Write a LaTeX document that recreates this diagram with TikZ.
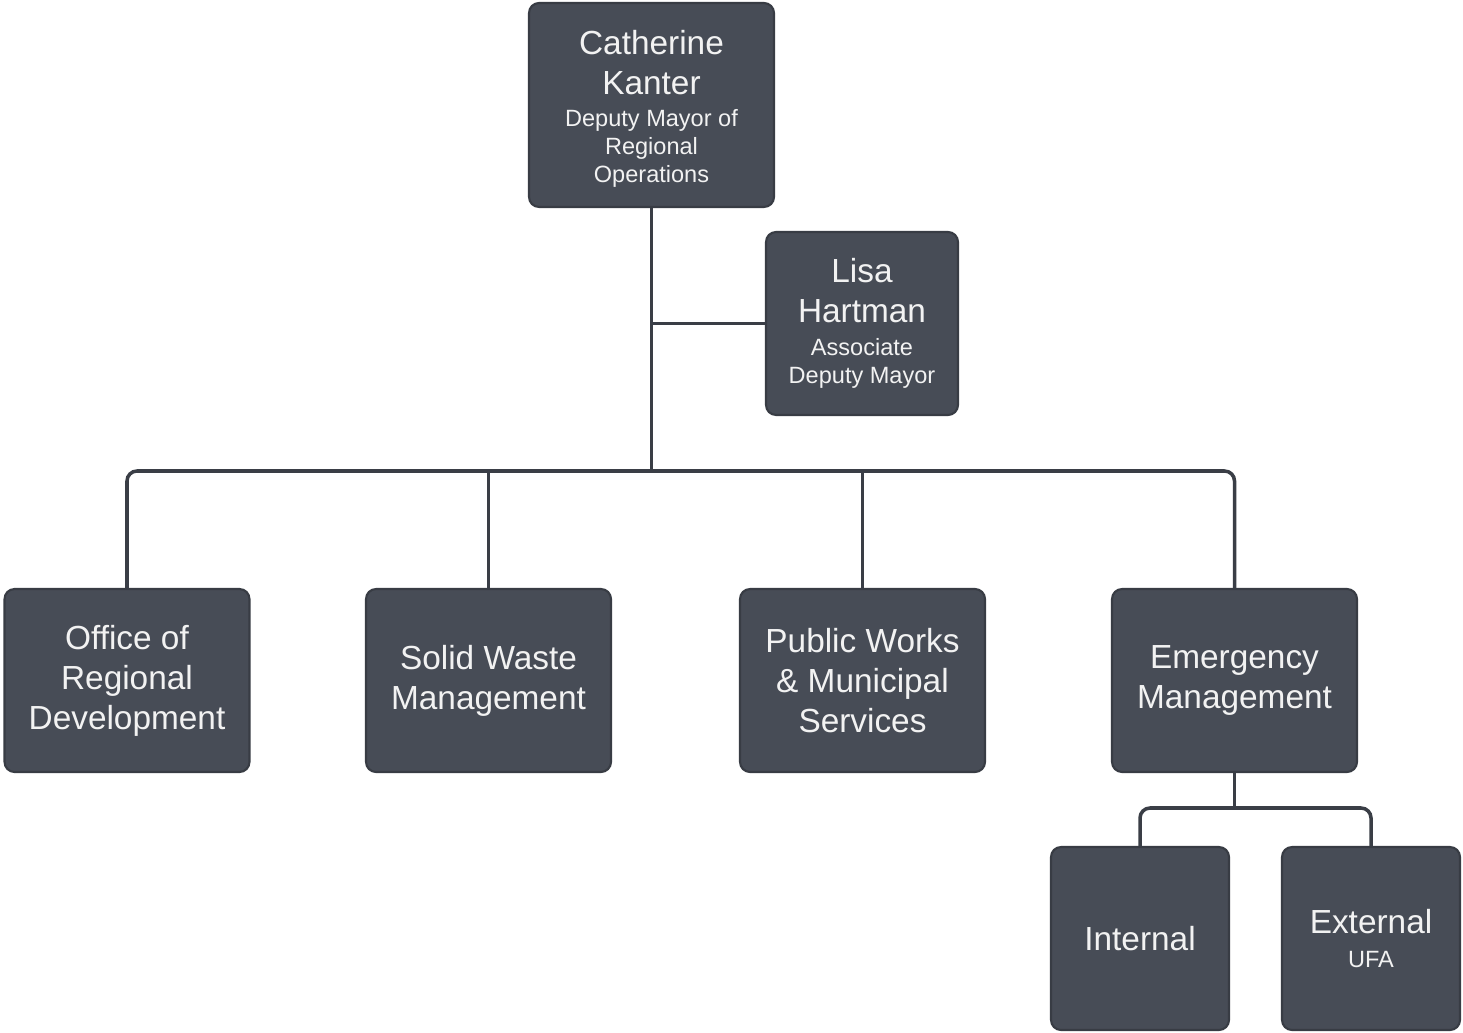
\documentclass[tikz,border=0pt]{standalone}
\usepackage{fontspec}
\setmainfont{Liberation Sans}
\definecolor{boxfill}{HTML}{474C56}
\definecolor{boxline}{HTML}{383C44}
\definecolor{linecol}{HTML}{3A3E46}
\definecolor{txt}{HTML}{F2F2F2}
\newcommand{\bigf}{\fontsize{19pt}{22.7pt}\selectfont}
\newcommand{\smlf}{\fontsize{13.4pt}{16pt}\selectfont}
\begin{document}
\begin{tikzpicture}[x=0.02cm,y=-0.02cm,
  orgbox/.style={draw=boxline,fill=boxfill,line width=1.2pt,rounded corners=0.2cm,
    text=txt,inner sep=0pt,minimum width=4.9cm,minimum height=3.66cm,font=\bigf},
  conn/.style={draw=linecol,line width=2pt,rounded corners=0.2cm}]
\useasboundingbox[fill=white] (0,0) rectangle (1463,1033);
\node[orgbox,minimum height=4.08cm] (cat) at (651.5,105) {\begin{minipage}{4.6cm}\centering\vspace*{4.5pt}Catherine\\Kanter\par\vspace{2.4pt}\smlf Deputy Mayor of\\Regional\\Operations\end{minipage}};
\node[orgbox,minimum width=3.84cm] (lisa) at (862,323.5) {\begin{minipage}{3.6cm}\centering Lisa\\Hartman\par\vspace{2.4pt}\smlf Associate\\Deputy Mayor\end{minipage}};
\node[orgbox] (ord) at (127,680.5) {\begin{minipage}{4.6cm}\centering Office of\\Regional\\Development\end{minipage}};
\node[orgbox] (swm) at (488.5,680.5) {\begin{minipage}{4.6cm}\centering Solid Waste\\Management\end{minipage}};
\node[orgbox] (pw) at (862.5,680.5) {\begin{minipage}{4.6cm}\centering Public Works\\\& Municipal\\Services\end{minipage}};
\node[orgbox] (em) at (1234.5,680.5) {\begin{minipage}{4.6cm}\centering Emergency\\Management\end{minipage}};
\node[orgbox,minimum width=3.56cm] (int) at (1140,938.5) {\begin{minipage}{3.3cm}\centering Internal\end{minipage}};
\node[orgbox,minimum width=3.56cm] (ext) at (1371,938.5) {\begin{minipage}{3.3cm}\centering External\par\vspace{3.8pt}\smlf UFA\end{minipage}};
\coordinate (jn) at (651.5,471);
\coordinate (ej) at (1234.5,808);
\draw[conn] (cat.south) -- (jn);
\draw[conn] (cat.south |- lisa.west) -- (lisa.west);
\draw[conn] (ord.north) |- (jn) -| (em.north);
\draw[conn] (swm.north) -- (swm.north |- jn);
\draw[conn] (pw.north) -- (pw.north |- jn);
\draw[conn] (em.south) -- (ej);
\draw[conn] (int.north) |- (ej) -| (ext.north);
\end{tikzpicture}
\end{document}
